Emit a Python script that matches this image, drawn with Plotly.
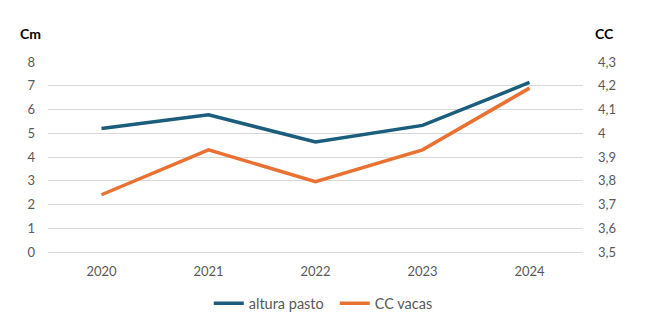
import plotly.graph_objects as go

years = ["2020", "2021", "2022", "2023", "2024"]
altura_pasto = [5.2, 5.78, 4.63, 5.33, 7.14]
cc_vacas = [3.741, 3.93, 3.796, 3.93, 4.19]

blue = "#1B5D7D"
orange = "#E97132"
tick_font = dict(family="Lato, Open Sans, sans-serif", size=13, color="#595959")

fig = go.Figure()
fig.add_trace(go.Scatter(x=years, y=altura_pasto, name="altura pasto", mode="lines",
                         line=dict(color=blue, width=3.5)))
fig.add_trace(go.Scatter(x=years, y=cc_vacas, name="CC vacas", mode="lines",
                         line=dict(color=orange, width=3.5), yaxis="y2"))

fig.update_layout(
    width=660, height=325,
    margin=dict(l=48, r=77, t=62, b=73, autoexpand=False),
    plot_bgcolor="white", paper_bgcolor="white",
    separators=",.",
    xaxis=dict(type="category", range=[-0.5, 4.5], showgrid=False, showline=False,
               tickfont=tick_font, ticks="", ticklabelstandoff=10),
    yaxis=dict(range=[0, 8], dtick=1, showgrid=True, gridcolor="#D9D9D9", gridwidth=1,
               zeroline=True, zerolinecolor="#D9D9D9", zerolinewidth=1,
               showline=False, tickfont=tick_font, ticks="",
               ticklabelstandoff=12),
    yaxis2=dict(range=[3.5, 4.3], dtick=0.1, overlaying="y", side="right",
                showgrid=False, zeroline=False, showline=False, tickfont=tick_font,
                ticks="", ticklabelstandoff=14),
    legend=dict(orientation="h", x=0.536, xanchor="center", y=-0.27, yanchor="middle",
                font=dict(family="Lato, Open Sans, sans-serif", size=14.5, color="#595959"),
                entrywidth=81, entrywidthmode="pixels",
                bgcolor="rgba(0,0,0,0)"),
    showlegend=True,
)
fig.add_annotation(text="<b>Cm</b>", xref="paper", yref="paper", x=-0.033, y=1.15,
                   xanchor="center", yanchor="middle", showarrow=False,
                   font=dict(family="Lato, sans-serif", size=14, color="black"))
fig.add_annotation(text="<b>CC</b>", xref="paper", yref="paper", x=1.04, y=1.15,
                   xanchor="center", yanchor="middle", showarrow=False,
                   font=dict(family="Lato, sans-serif", size=14, color="black"))

fig.write_html("out.html")
